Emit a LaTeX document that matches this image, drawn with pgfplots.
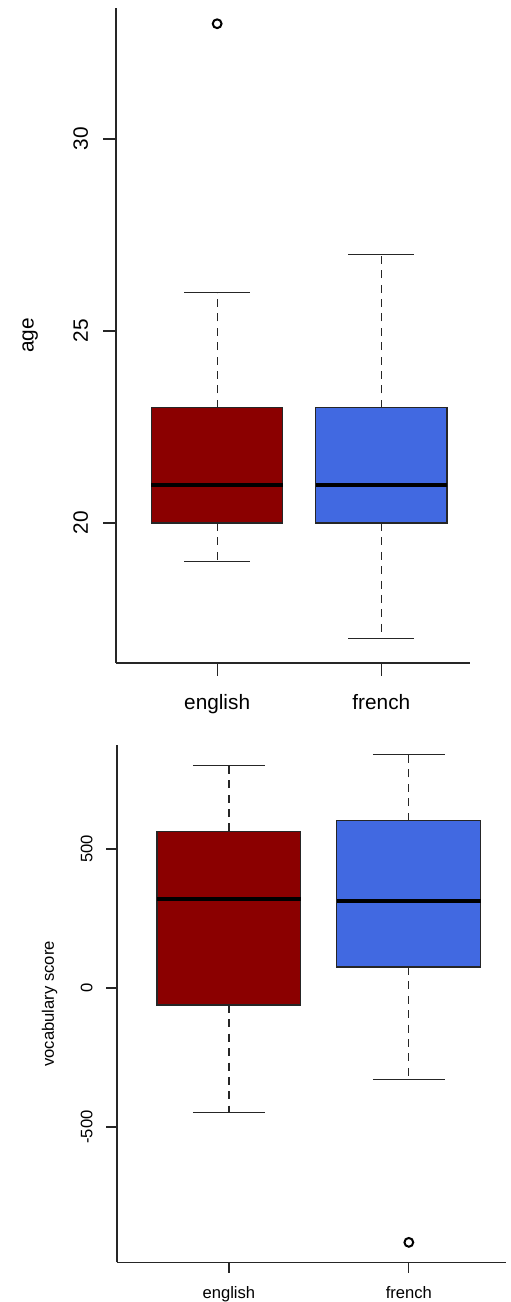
\documentclass[border=0pt]{standalone}
\usepackage{fontspec}
\setmainfont{Liberation Sans}
\usepackage{pgfplots}
\pgfplotsset{compat=1.18}

\definecolor{engred}{HTML}{8B0000}
\definecolor{frblue}{HTML}{4169E1}

\newcommand\topfont{\fontsize{10.4}{12}\selectfont}
\newcommand\botfont{\fontsize{8.3}{10}\selectfont}

\pgfplotsset{
  rbox/.style={
    scale only axis,
    axis x line*=bottom,
    axis y line*=left,
    axis line style={-, line width=0.6pt, black!85},
    tick align=outside,
    tick style={line width=0.6pt, black!85},
    xtick={1,2},
    xticklabels={english,french},
    /pgf/number format/assume math mode=true,
    every tick label/.append style={inner sep=0pt},
    clip=false,
  },
  % box-and-whisker parts
  stem/.style={dash pattern=on 4pt off 3.2pt, line width=0.6pt, black!85},
  cap/.style={solid, line width=0.6pt, black!85},
  qbox/.style={draw=black!85, line width=0.6pt, line join=miter, line cap=rect},
  med/.style={black, line width=2pt},
  outlier/.style={only marks, mark=o, mark size=2.2pt,
    mark options={solid, draw=black, line width=1pt, fill=none}},
}

\begin{document}
\begin{tikzpicture}
\useasboundingbox (0,0) rectangle (255pt,651pt);

% ---- age ----
\begin{axis}[rbox,
  at={(58pt,319.5pt)}, anchor=south west,
  width=177pt, height=327.5pt,
  xmin=0.384, xmax=2.54,
  ymin=16.354, ymax=33.41,
  ytick={20,25,30},
  major tick length=6.3pt,
  xticklabel style={font=\topfont, anchor=base, yshift=-17.2pt},
  yticklabel style={font=\topfont, xshift=-7.7pt, rotate=90, anchor=base},
  ylabel={age},
  ylabel style={font=\topfont, at={(rel axis cs:-0.2330,0.5)}, anchor=base, inner sep=0pt},
]
% english: whiskers 19 / 26, quartiles 20 / 23, median 21
\addplot[stem] coordinates {(1,20) (1,19)};
\addplot[stem] coordinates {(1,23) (1,26)};
\addplot[cap] coordinates {(0.8,19) (1.2,19)};
\addplot[cap] coordinates {(0.8,26) (1.2,26)};
\addplot[qbox, fill=engred] coordinates {(0.6,20) (1.4,20) (1.4,23) (0.6,23) (0.6,20)};
\addplot[med] coordinates {(0.6,21) (1.4,21)};
% french: whiskers 17 / 27, quartiles 20 / 23, median 21
\addplot[stem] coordinates {(2,20) (2,17)};
\addplot[stem] coordinates {(2,23) (2,27)};
\addplot[cap] coordinates {(1.8,17) (2.2,17)};
\addplot[cap] coordinates {(1.8,27) (2.2,27)};
\addplot[qbox, fill=frblue] coordinates {(1.6,20) (2.4,20) (2.4,23) (1.6,23) (1.6,20)};
\addplot[med] coordinates {(1.6,21) (2.4,21)};
% outliers
\addplot[outlier] coordinates {(1,33)};
\end{axis}

% ---- vocabulary score ----
\begin{axis}[rbox,
  at={(58.5pt,19.85pt)}, anchor=south west,
  width=194.5pt, height=258.5pt,
  xmin=0.378, xmax=2.54,
  ymin=-986.7, ymax=872.7,
  ytick={-500,0,500},
  major tick length=5.3pt,
  xticklabel style={font=\botfont, anchor=base, yshift=-13pt},
  yticklabel style={font=\botfont, xshift=-7pt, rotate=90, anchor=base},
  ylabel={vocabulary score},
  ylabel style={font=\botfont, at={(rel axis cs:-0.1620,0.5)}, anchor=base, inner sep=0pt},
]
% english: whiskers -448 / 800, quartiles -61 / 563, median 321
\addplot[stem] coordinates {(1,-61) (1,-448)};
\addplot[stem] coordinates {(1,563) (1,800)};
\addplot[cap] coordinates {(0.8,-448) (1.2,-448)};
\addplot[cap] coordinates {(0.8,800) (1.2,800)};
\addplot[qbox, fill=engred] coordinates {(0.6,-61) (1.4,-61) (1.4,563) (0.6,563) (0.6,-61)};
\addplot[med] coordinates {(0.6,321) (1.4,321)};
% french: whiskers -329 / 840, quartiles 75 / 602, median 313
\addplot[stem] coordinates {(2,75) (2,-329)};
\addplot[stem] coordinates {(2,602) (2,840)};
\addplot[cap] coordinates {(1.8,-329) (2.2,-329)};
\addplot[cap] coordinates {(1.8,840) (2.2,840)};
\addplot[qbox, fill=frblue] coordinates {(1.6,75) (2.4,75) (2.4,602) (1.6,602) (1.6,75)};
\addplot[med] coordinates {(1.6,313) (2.4,313)};
% outliers
\addplot[outlier] coordinates {(2,-915)};
\end{axis}
\end{tikzpicture}
\end{document}
